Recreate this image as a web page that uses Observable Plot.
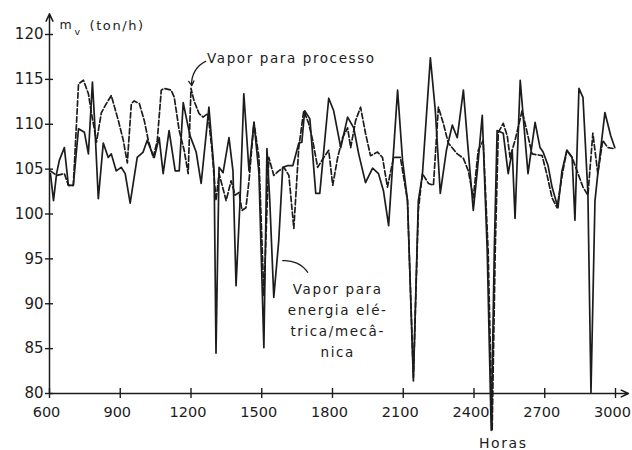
<!DOCTYPE html>
<html>
<head>
<meta charset="utf-8">
<script src="https://cdn.jsdelivr.net/npm/d3@7"></script>
<script src="https://cdn.jsdelivr.net/npm/@observablehq/plot@0.6"></script>
<style>
  html, body { margin: 0; padding: 0; background: #fff; }
  #chart { width: 632px; height: 450px; }
  #chart g[aria-label="text"] text { letter-spacing: 1.6px; }
</style>
</head>
<body>
<div id="chart"></div>
<script>
// ---- Data ----
const xTicks = [600, 900, 1200, 1500, 1800, 2100, 2400, 2700, 3000];
const yTicks = [80, 85, 90, 95, 100, 105, 110, 115, 120];

// Solid: Vapor para energia elétrica/mecânica
const hoursEnergia = [604,617,630,642,663,680,701,723,748,765,782,790,807,828,849,862,883,904,921,942,
  972,997,1014,1031,1044,1065,1082,1107,1133,1150,1167,1196,1222,1243,1276,1298,1306,1319,1336,1361,
  1378,1391,1408,1424,1446,1467,1488,1509,1522,1534,1551,1572,1589,1611,1632,1657,1670,1682,1704,1729,
  1746,1784,1805,1835,1864,1890,1911,1940,1970,1995,2016,2038,2076,2097,2118,2143,2164,2181,2215,2236,
  2257,2283,2308,2329,2355,2372,2397,2414,2435,2456,2473,2486,2498,2524,2545,2562,2574,2596,2617,2629,
  2659,2680,2693,2714,2731,2744,2756,2773,2794,2816,2828,2845,2862,2883,2896,2913,2925,2955,2980,2997];
const valuesEnergia = [104.5,101.5,104.5,106.0,107.4,103.2,103.2,109.5,109.1,106.7,114.7,111.0,101.7,107.9,106.3,106.7,104.8,105.2,104.5,101.2,
  106.3,106.9,108.2,107.1,106.3,108.5,104.5,109.3,104.8,104.8,112.4,108.7,106.9,103.4,111.9,104.8,84.5,105.2,104.6,108.5,
  104.8,92.0,101.5,113.4,104.8,110.2,104.6,85.1,107.3,101.5,90.7,97.0,105.2,105.4,105.4,107.9,108.0,111.5,110.6,102.3,
  102.3,112.9,111.5,107.4,110.8,109.6,106.7,103.5,105.1,104.5,102.6,98.7,113.8,106.0,101.5,81.4,101.5,104.3,117.4,111.5,
  102.3,107.1,109.9,108.5,113.8,108.2,100.4,104.8,111.0,95.9,75.9,95.9,109.3,109.0,104.5,107.1,99.5,114.9,108.2,104.5,
  110.2,107.4,106.9,105.4,103.0,101.8,100.7,104.8,107.1,106.3,99.3,114.0,113.0,102.3,80.1,101.5,104.5,111.3,108.7,107.4];

// Dashed: Vapor para processo
const hoursProcesso = [604,630,663,680,701,723,744,765,778,790,799,820,841,862,892,913,930,947,959,981,
  1002,1019,1040,1057,1074,1086,1116,1129,1150,1171,1188,1200,1213,1234,1251,1272,1289,1306,1319,1349,
  1370,1387,1404,1416,1433,1446,1467,1488,1509,1530,1551,1572,1594,1615,1636,1657,1678,1699,1716,1737,
  1763,1784,1801,1822,1843,1864,1877,1898,1919,1940,1961,1991,2012,2033,2059,2088,2118,2143,2164,2181,
  2207,2228,2249,2270,2291,2329,2355,2376,2397,2418,2439,2460,2477,2490,2503,2524,2541,2553,2574,2604,
  2621,2646,2689,2710,2731,2752,2777,2794,2816,2841,2862,2883,2904,2925,2946,2967,2989];
const valuesProcesso = [104.8,104.3,104.5,103.2,103.2,114.5,114.9,113.4,111.2,109.5,108.0,111.3,112.3,113.2,110.4,108.2,105.7,112.3,112.6,112.3,
  110.4,108.2,106.3,108.2,113.8,114.0,113.8,113.0,109.3,107.1,104.5,114.0,112.6,111.2,110.8,111.2,107.1,101.5,104.5,101.5,
  103.7,102.1,102.4,100.4,100.7,103.7,110.2,106.3,90.9,106.3,104.3,104.8,105.2,104.3,98.4,107.4,111.5,110.1,108.2,105.2,
  106.3,107.1,103.2,106.3,108.5,109.6,107.4,110.4,111.9,109.0,106.5,106.9,106.3,103.0,106.3,106.3,101.5,81.8,100.4,104.5,
  103.4,103.2,111.9,110.1,107.9,106.7,106.2,104.8,101.8,107.1,108.2,95.9,75.9,95.9,109.1,110.1,108.7,106.3,108.2,111.5,
  109.6,106.7,106.5,104.3,101.8,100.7,104.8,107.1,106.3,104.5,103.0,102.1,109.0,104.5,108.2,107.4,107.3];

const energia = hoursEnergia.map((h, i) => ({h, v: valuesEnergia[i]}));
const processo = hoursProcesso.map((h, i) => ({h, v: valuesProcesso[i]}));

// Annotation texts
const labelProcesso = "Vapor para processo";
const labelEnergia = "Vapor para\nenergia elé-\ntrica/mecâ-\nnica";
const xAxisTitle = "Horas";
const yAxisUnit = "(ton/h)";

const ink = "#1c1c1c";
const font = "DejaVu Sans";
const xMin = xTicks[0], xMax = xTicks[xTicks.length - 1];
const yMin = yTicks[0], yMax = yTicks[yTicks.length - 1];

const chart = Plot.plot({
  width: 632,
  height: 450,
  marginLeft: 49,
  marginRight: 17,
  marginTop: 34,
  marginBottom: 57,
  x: {domain: [xMin, xMax]},
  y: {domain: [yMin, yMax]},
  style: {fontFamily: font, fontSize: "15px", color: ink, background: "#fff", overflow: "visible"},
  marks: [
    // axis lines with arrows
    Plot.arrow([0], {x1: xMin, y1: yMin, x2: xMin, y2: yMax + 2.3, stroke: ink, strokeWidth: 1.5, headLength: 8, headAngle: 50}),
    Plot.arrow([0], {x1: xMin, y1: yMin, x2: xMax + 55, y2: yMin, stroke: ink, strokeWidth: 1.5, headLength: 8, headAngle: 50}),
    Plot.axisY({ticks: yTicks, tickSize: 8, dx: 4, tickPadding: 2, tickFormat: d => String(d), label: null, stroke: ink, strokeWidth: 1.4, fill: ink, fontSize: 15}),
    Plot.axisX({ticks: xTicks, tickSize: 10, dy: -5, tickPadding: 8, tickFormat: () => "", label: null, stroke: ink, strokeWidth: 1.4}),
    Plot.axisX({ticks: xTicks, tickSize: 0, dx: -3, tickPadding: 13, tickFormat: d => String(d), label: null, fill: ink, fontSize: 14.5}),
    // series
    Plot.line(processo, {x: "h", y: "v", stroke: ink, strokeWidth: 1.7, strokeDasharray: "5.5,2.5"}),
    Plot.line(energia, {x: "h", y: "v", stroke: ink, strokeWidth: 1.7}),
    // annotations
    Plot.text([labelProcesso], {x: 1268, y: 117.3, text: d => d, textAnchor: "start", fontSize: 13.5, fill: ink}),
    Plot.arrow([0], {x1: 1262, y1: 117.0, x2: 1203, y2: 114.3, bend: -35, stroke: ink, strokeWidth: 1.3, headLength: 6}),
    Plot.text([labelEnergia], {x: 1822, y: 88.3, text: d => d, textAnchor: "middle", lineHeight: 1.55, fontSize: 13.5, fill: ink}),
    Plot.arrow([0], {x1: 1589, y1: 94.8, x2: 1695, y2: 93.5, bend: 30, stroke: ink, strokeWidth: 1.2, headLength: 0}),
    // axis titles
    Plot.text(["m"], {frameAnchor: "top-left", dx: 10, dy: -14, textAnchor: "start", fontSize: 12.5, fill: ink, text: d => d}),
    Plot.text(["v"], {frameAnchor: "top-left", dx: 25, dy: -6, textAnchor: "start", fontSize: 9.5, fill: ink, text: d => d}),
    Plot.text([yAxisUnit], {frameAnchor: "top-left", dx: 40, dy: -14, textAnchor: "start", fontSize: 13, fill: ink, text: d => d}),
    Plot.text([xAxisTitle], {x: 2524, frameAnchor: "bottom", dy: 54, textAnchor: "middle", fontSize: 14, fill: ink, text: d => d})
  ]
});
document.getElementById("chart").appendChild(chart);
</script>
</body>
</html>
